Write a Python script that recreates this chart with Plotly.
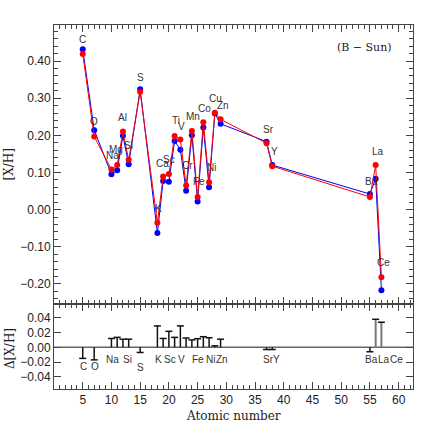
import plotly.graph_objects as go

# element abundances, (B - Sun)
elements = ['C', 'O', 'Na', 'Mg', 'Al', 'Si', 'S', 'K', 'Ca', 'Sc', 'Ti', 'V',
            'Cr', 'Mn', 'Fe', 'Co', 'Ni', 'Cu', 'Zn', 'Sr', 'Y', 'Ba', 'La', 'Ce']
atomic_pos = [5, 7, 10, 11, 12, 13, 15, 18, 19, 20, 21, 22,
              23, 24, 25, 26, 27, 28, 29, 37, 38, 55, 56, 57]
blue_xh = [0.432, 0.214, 0.095, 0.106, 0.199, 0.122, 0.324, -0.063, 0.077, 0.075, 0.185, 0.161,
           0.051, 0.200, 0.022, 0.221, 0.060, 0.259, 0.231, 0.183, 0.120, 0.042, 0.083, -0.217]
red_xh = [0.419, 0.197, 0.108, 0.120, 0.210, 0.134, 0.317, -0.035, 0.089, 0.096, 0.198, 0.189,
          0.065, 0.212, 0.034, 0.235, 0.074, 0.261, 0.243, 0.179, 0.117, 0.034, 0.120, -0.182]
delta_xh = [-0.015, -0.017, 0.012, 0.0135, 0.011, 0.011, -0.007, 0.029, 0.012, 0.0217, 0.0135, 0.029,
            0.0126, 0.010, 0.0117, 0.0144, 0.013, 0.002, 0.011, -0.003, -0.003, -0.006, 0.038, 0.034]

# labels shown in the lower panel
delta_labels = ['C', 'O', 'Na', 'Si', 'S', 'K', 'Sc', 'V', 'Fe', 'Ni', 'Zn', 'Sr', 'Y', 'Ba', 'La', 'Ce']

# label offsets in pixels (style only)
main_shift = {'C': (0, 14), 'O': (0, 15), 'Na': (1, 14), 'Mg': (-1, 16), 'Al': (0, 14), 'Si': (0, 14),
              'S': (0, 14), 'K': (1, 14), 'Ca': (-1, 13), 'Sc': (0, 14), 'Ti': (1, 16), 'V': (1, 13),
              'Cr': (1, 20), 'Mn': (1, 14), 'Fe': (1, 16), 'Co': (1, 14), 'Ni': (2, 15), 'Cu': (1, 14),
              'Zn': (2, 14), 'Sr': (2, 14), 'Y': (2, 15), 'Ba': (2, 16), 'La': (2, 14), 'Ce': (2, 15)}
delta_shift = {'C': (1, -19), 'O': (1, -19), 'Na': (1, -12), 'Si': (-1, -12), 'S': (0, -20),
               'K': (1, -12), 'Sc': (1, -12), 'V': (1, -12), 'Fe': (0, -12), 'Ni': (1, -12),
               'Zn': (1, -12), 'Sr': (2, -12), 'Y': (4, -12), 'Ba': (2, -12), 'La': (8, -12),
               'Ce': (15, -12)}

FRAME = '#444444'
SANS = 'Liberation Sans'
SERIF = 'DejaVu Serif'

fig = go.Figure()

fig.add_trace(go.Scatter(x=atomic_pos, y=blue_xh, mode='lines+markers',
                         line=dict(color='#0000ff', width=1),
                         marker=dict(color='#0000ff', size=6), xaxis='x', yaxis='y'))
fig.add_trace(go.Scatter(x=atomic_pos, y=red_xh, mode='lines+markers',
                         line=dict(color='#ff0000', width=1),
                         marker=dict(color='#ff0000', size=6), xaxis='x', yaxis='y'))

# difference bars in the lower panel
for el, xv, dv in zip(elements, atomic_pos, delta_xh):
    col = '#777777' if el in ('La', 'Ce') else '#111111'
    wid = 2 if el in ('La', 'Ce') else 1.5
    fig.add_trace(go.Scatter(x=[xv, xv], y=[0, dv], mode='lines',
                             line=dict(color=col, width=wid), xaxis='x2', yaxis='y2'))
fig.add_trace(go.Scatter(x=atomic_pos, y=delta_xh, mode='markers',
                         marker=dict(symbol='line-ew', size=5, line=dict(color='#111111', width=1.5)),
                         xaxis='x2', yaxis='y2'))

label_font = dict(family=SANS, size=10, color='#333')
annotations = []
for el, xv, yv in zip(elements, atomic_pos, red_xh):
    dx, dy = main_shift[el]
    annotations.append(dict(x=xv, y=yv, xref='x', yref='y', text=el, showarrow=False,
                            xanchor='center', yanchor='middle',
                            xshift=dx, yshift=dy, font=label_font))
for el in delta_labels:
    i = elements.index(el)
    dx, dy = delta_shift[el]
    annotations.append(dict(x=atomic_pos[i], y=0, xref='x2', yref='y2', text=el, showarrow=False,
                            xanchor='center', yanchor='middle',
                            xshift=dx, yshift=dy, font=label_font))

title_font = dict(family=SERIF, size=12, color='#222')
annotations += [
    dict(x=0.866, y=0.92, xref='x domain', yref='y domain', text='(B \u2212 Sun)', showarrow=False,
         xanchor='center', yanchor='middle', font=dict(family=SERIF, size=11, color='#222')),
    dict(x=0, y=0.5, xref='x domain', yref='y domain', text='[X/H]', showarrow=False, textangle=-90,
         xanchor='center', yanchor='middle', xshift=-45, font=title_font),
    dict(x=0, y=0.47, xref='x2 domain', yref='y2 domain', text='\u0394[X/H]', showarrow=False,
         textangle=-90, xanchor='center', yanchor='middle', xshift=-44, font=title_font),
    dict(x=0.5, y=0, xref='x2 domain', yref='y2 domain', text='Atomic number', showarrow=False,
         xanchor='center', yanchor='middle', yshift=-27, font=title_font),
]

axis_common = dict(showline=True, linecolor=FRAME, linewidth=1, mirror='ticks', ticks='inside',
                   tickcolor=FRAME, ticklen=7, showgrid=False, zeroline=False, automargin=False,
                   tickfont=dict(family=SANS, size=12, color='#222'))
minor_x = dict(dtick=1, ticklen=4, tickcolor=FRAME, ticks='inside')

fig.update_layout(
    width=436, height=436,
    margin=dict(l=54, r=23, t=25, b=47),
    paper_bgcolor='white', plot_bgcolor='white',
    showlegend=False,
    annotations=annotations,
    xaxis=dict(domain=[0, 1], range=[0, 62.5], anchor='y', tickvals=list(range(5, 61, 5)),
               showticklabels=False, minor=minor_x, **axis_common),
    yaxis=dict(domain=[0.2335, 1], range=[-0.254, 0.497], anchor='x', dtick=0.1, tick0=0,
               tickformat='.2f', minor=dict(dtick=0.02, ticklen=4, tickcolor=FRAME, ticks='inside'),
               **axis_common),
    xaxis2=dict(domain=[0, 1], range=[0, 62.5], anchor='y2', matches='x',
                tickvals=list(range(5, 61, 5)), minor=minor_x, **axis_common),
    yaxis2=dict(domain=[0, 0.2335], range=[-0.0565, 0.0587], anchor='x2', dtick=0.02, tick0=0,
                tickformat='.2f', **axis_common),
)
fig.add_shape(type='line', xref='x2', yref='y2', x0=0, x1=62.5, y0=0, y1=0,
              line=dict(color='#666666', width=1.5), layer='below')

# drop the default 8px page margin so the figure fills the window
fig.write_html("out.html", config={'displayModeBar': False},
               post_script="document.body.style.margin='0';")
